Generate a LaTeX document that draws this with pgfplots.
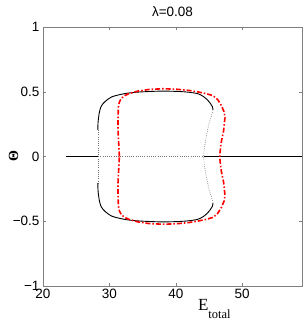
\documentclass[border=0pt]{standalone}
\usepackage{pgfplots}
\pgfplotsset{compat=1.18}
\usepackage{fontspec}
\setmainfont{Liberation Sans}
\newfontfamily\seriffont{Liberation Serif}
\begin{document}
\begin{tikzpicture}
\path[use as bounding box] (0,0) rectangle (305pt,321pt);
\begin{axis}[
  at={(43pt,35pt)}, anchor=south west,
  scale only axis, width=259pt, height=259pt,
  xmin=20, xmax=59, ymin=-1, ymax=1,
  xtick={20,30,40,50}, xticklabels={20,30,40,50},
  ytick={-1,-0.5,0,0.5,1}, yticklabels={−1,−0.5,0,0.5,1},
  axis line style={black!50},
  tick style={black!50},
  major tick length=3pt,
  tick align=inside,
  /pgf/number format/assume math mode=true,
  ticklabel style={font=\fontsize{13.5}{14}\selectfont},
  every axis title shift=0pt,
  title={λ=0.08},
  title style={font=\fontsize{13.5}{14}\selectfont, at={(axis description cs:0.5,1)}, anchor=base, yshift=10.3pt, inner sep=0pt},
  ylabel={Θ},
  ylabel style={font=\seriffont\bfseries\fontsize{14}{14}\selectfont, at={(axis description cs:-0.114,0.5)}, anchor=center, inner sep=0pt},
  xlabel={\seriffont\fontsize{17}{17}\selectfont E\raisebox{-8.3pt}{\fontsize{12.5}{12.5}\selectfont total}},
  xlabel style={at={(axis description cs:0.598,0)}, anchor=base west, yshift=-24.7pt, inner sep=0pt},
]
% gray dotted (unstable) branches
\addplot[black!55, line width=0.6pt, dash pattern=on 0.8pt off 1.4pt] coordinates {(28.3,0) (44.2,0)};
\addplot[black!55, line width=0.6pt, dash pattern=on 0.8pt off 1.4pt] coordinates {(28.28,0.205) (28.28,-0.205)};
\addplot[black!55, line width=0.6pt, dash pattern=on 0.8pt off 1.4pt, smooth] coordinates {
 (45.6,0.36) (45.3,0.3) (45.0,0.256) (44.7,0.18) (44.5,0.127) (44.3,0.06) (44.2,0)
 (44.3,-0.06) (44.5,-0.127) (44.7,-0.18) (45.0,-0.256) (45.3,-0.3) (45.6,-0.36)};
% black solid branches
\addplot[black, line width=0.9pt] coordinates {(23.5,0) (28.3,0)};
\addplot[black, line width=0.9pt] coordinates {(44.2,0) (59,0)};
\addplot[black, line width=0.9pt, smooth] coordinates {
 (28.25,0.205) (28.3,0.27) (28.47,0.336) (28.7,0.38) (29.07,0.41) (29.6,0.435) (30.33,0.46)
 (31.4,0.476) (32.6,0.488) (34,0.496) (35.6,0.501) (38,0.505) (40.5,0.502) (42,0.496)
 (43.3,0.485) (44.1,0.465) (44.7,0.44) (45.2,0.41) (45.5,0.385) (45.6,0.36)};
\addplot[black, line width=0.9pt, smooth] coordinates {
 (28.25,-0.205) (28.3,-0.27) (28.47,-0.336) (28.7,-0.38) (29.07,-0.41) (29.6,-0.435) (30.33,-0.46)
 (31.4,-0.476) (32.6,-0.488) (34,-0.496) (35.6,-0.501) (38,-0.505) (40.5,-0.502) (42,-0.496)
 (43.3,-0.485) (44.1,-0.465) (44.7,-0.44) (45.2,-0.41) (45.5,-0.385) (45.6,-0.36)};
% red dash-dot closed curve
\addplot[red, line width=1.6pt, dash pattern=on 5pt off 2pt on 1.5pt off 2pt] coordinates {
 (31.5,0) (31.4,0.1) (31.3,0.2) (31.3,0.3) (31.35,0.38) (31.5,0.42) (31.8,0.45) (32.3,0.47)
 (32.9,0.485) (34.3,0.505) (36,0.518) (38,0.523) (40,0.52) (42,0.51) (43.5,0.497) (44.6,0.485)
 (45.6,0.47) (46.3,0.44) (46.9,0.39) (47.3,0.34) (47.4,0.3) (47.2,0.2) (46.8,0.1) (46.6,0)
 (46.8,-0.1) (47.2,-0.2) (47.4,-0.3) (47.3,-0.34) (46.9,-0.39) (46.3,-0.44) (45.6,-0.47)
 (44.6,-0.485) (43.5,-0.497) (42,-0.51) (40,-0.52) (38,-0.523) (36,-0.518) (34.3,-0.505)
 (32.9,-0.485) (32.3,-0.47) (31.8,-0.45) (31.5,-0.42) (31.35,-0.38) (31.3,-0.3) (31.3,-0.2)
 (31.4,-0.1) (31.5,0)};
\end{axis}
\end{tikzpicture}
\end{document}
